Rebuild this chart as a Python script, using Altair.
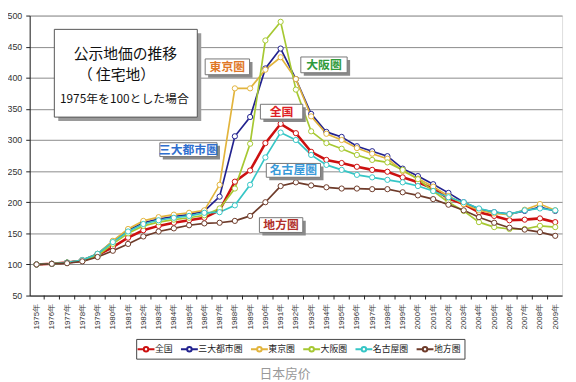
import altair as alt
import pandas as pd

years = list(range(1975, 2010))
series_names = ["全国", "三大都市圏", "東京圏", "大阪圏", "名古屋圏", "地方圏"]
series_colors = ["#CC1010", "#22228F", "#E2B43C", "#A6C832", "#36C6C6", "#6E3B2A"]

zenkoku = [100, 101, 103, 106, 115, 128, 143, 155, 162, 167, 171, 175, 187, 233, 251, 295, 326, 311, 281,
           268, 263, 257, 252, 249, 240, 232, 222, 206, 197, 184, 178, 171, 172, 174, 168]
sandai = [100, 101, 103, 107, 117, 137, 155, 167, 173, 177, 180, 186, 209, 306, 337, 415, 447, 398, 342,
          313, 305, 290, 282, 274, 254, 242, 229, 215, 200, 189, 184, 181, 186, 192, 186]
tokyo = [100, 101, 103, 107, 117, 138, 157, 170, 176, 180, 183, 187, 228, 383, 383, 413, 433, 398, 338,
         310, 300, 287, 278, 270, 250, 238, 225, 210, 197, 187, 182, 180, 188, 197, 187]
osaka = [100, 101, 103, 106, 114, 133, 150, 162, 168, 172, 175, 179, 190, 222, 294, 460, 490, 381, 314,
         295, 286, 276, 268, 264, 252, 237, 218, 200, 186, 168, 160, 157, 157, 162, 160]
nagoya = [100, 101, 103, 107, 117, 136, 153, 165, 171, 175, 178, 183, 184, 195, 228, 272, 312, 300, 276,
          260, 252, 244, 240, 236, 232, 226, 218, 208, 200, 190, 184, 181, 187, 190, 187]
chiho = [100, 101, 102, 105, 112, 122, 133, 145, 153, 158, 163, 166, 167, 170, 178, 200, 226, 232, 227,
         224, 222, 222, 221, 221, 216, 211, 205, 196, 187, 176, 167, 159, 156, 152, 146]

all_series = [zenkoku, sandai, tokyo, osaka, nagoya, chiho]

rows = []
for name, vals in zip(series_names, all_series):
    for yr, v in zip(years, vals):
        rows.append({"year": yr, "series": name, "value": v})
df = pd.DataFrame(rows)

tick_edges = pd.DataFrame({"year": [y + 0.5 for y in years[:-1]]})

# annotation boxes (pixel positions in plot area)
ann_labels = ["東京圏", "大阪圏", "全国", "三大都市圏", "名古屋圏", "地方圏"]
ann_colors = ["#E07828", "#2E9A3A", "#DD1F26", "#2F6FCF", "#3A9AD9", "#B0302A"]
ann_x1 = [178, 275, 234, 132, 240, 233]
ann_x2 = [223, 322, 277, 190, 295, 277]
ann_y1 = [44, 42, 90, 129, 150, 205]
ann_y2 = [60, 58, 105, 143, 164, 220]
ann = pd.DataFrame({"label": ann_labels, "color": ann_colors, "x1": ann_x1, "x2": ann_x2,
                    "y1": ann_y1, "y2": ann_y2})
ann["cx"] = (ann["x1"] + ann["x2"]) / 2
ann["cy"] = (ann["y1"] + ann["y2"]) / 2

title_lines = ["公示地価の推移", "（  住宅地）", "1975年を100とした場合"]
title_df = pd.DataFrame({"text": title_lines, "tx": [97, 88, 96], "ty": [39, 60, 85], "fs": [15, 15, 12]})
box_df = pd.DataFrame({"x1": [25], "x2": [170], "y1": [14], "y2": [103]})
caption_df = pd.DataFrame({"text": ["日本房价"], "tx": [259], "ty": [364]})

x_scale = alt.Scale(domain=[1974.55, 2009.45], nice=False, zero=False)
y_scale = alt.Scale(domain=[50, 500], nice=False, zero=False)

x_axis = alt.Axis(values=years, labelExpr="datum.value + '年'", labelAngle=270,
                  labelAlign="right", labelBaseline="middle", labelFontSize=8,
                  labelColor="#333", labelPadding=8, ticks=False, grid=False,
                  domainColor="#222", labelFont="Liberation Sans", labelOverlap=False,
                  labelBound=False, labelFlush=False, title=None)
y_axis = alt.Axis(values=list(range(50, 501, 50)), grid=True, gridColor="#8a8a8a",
                  gridWidth=1, tickSize=4, tickColor="#222", domainColor="#222",
                  labelFontSize=9, labelColor="#333", labelPadding=4,
                  labelFont="Liberation Sans", labelOverlap=False, labelFlush=False, title=None)

legend_symbol = "M-1.5,0H-0.4M0.4,0H1.5M-0.4,0A0.4,0.4 0 1 1 0.4,0A0.4,0.4 0 1 1 -0.4,0Z"

base = alt.Chart(df)

lines = base.mark_line(interpolate="linear").encode(
    x=alt.X("year:Q", scale=x_scale, axis=x_axis, title=None),
    y=alt.Y("value:Q", scale=y_scale, axis=y_axis, title=None),
    color=alt.Color("series:N", scale=alt.Scale(domain=series_names, range=series_colors),
                    legend=alt.Legend(orient="none", legendX=108, legendY=328, direction="horizontal",
                                      title=None, labelFontSize=9, labelFont="Noto Sans CJK JP",
                                      labelColor="#222", symbolType=legend_symbol, symbolSize=130,
                                      symbolStrokeWidth=2, symbolFillColor="white",
                                      strokeColor="#444", fillColor="white", padding=3,
                                      columnPadding=3, labelOffset=2, columns=6)),
    strokeWidth=alt.condition(alt.datum.series == "全国", alt.value(2.6), alt.value(1.7)),
    detail="series:N",
)

points = base.mark_point(shape="circle", fill="white", fillOpacity=1, opacity=1, size=28,
                         strokeWidth=1).encode(
    x=alt.X("year:Q", scale=x_scale, axis=x_axis, title=None),
    y=alt.Y("value:Q", scale=y_scale, axis=y_axis, title=None),
    stroke=alt.Stroke("series:N", scale=alt.Scale(domain=series_names, range=series_colors),
                      legend=None),
)

ticks = alt.Chart(tick_edges).mark_rule(color="#222", strokeWidth=1).encode(
    x=alt.X("year:Q", scale=x_scale, axis=x_axis, title=None),
    y=alt.value(284),
    y2=alt.value(288),
)

box_shadow = alt.Chart(box_df).mark_rect(color="#9a9a9a").encode(
    x=alt.X("x1:Q", scale=None), x2="x2:Q",
    y=alt.Y("y1:Q", scale=None), y2="y2:Q",
).transform_calculate(x1="datum.x1 + 4", x2="datum.x2 + 4", y1="datum.y1 + 4", y2="datum.y2 + 4")

box = alt.Chart(box_df).mark_rect(fill="white", stroke="#555", strokeWidth=1).encode(
    x=alt.X("x1:Q", scale=None), x2="x2:Q",
    y=alt.Y("y1:Q", scale=None), y2="y2:Q",
)

title_text = alt.Chart(title_df).mark_text(font="Noto Sans CJK JP", color="#111", baseline="middle",
                                           align="center").encode(
    x=alt.X("tx:Q", scale=None), y=alt.Y("ty:Q", scale=None),
    text="text:N", size=alt.Size("fs:Q", scale=None),
)

ann_shadow = alt.Chart(ann).mark_rect(color="#8a8a8a").encode(
    x=alt.X("sx1:Q", scale=None), x2="sx2:Q",
    y=alt.Y("sy1:Q", scale=None), y2="sy2:Q",
).transform_calculate(sx1="datum.x1 + 3", sx2="datum.x2 + 3", sy1="datum.y1 + 3", sy2="datum.y2 + 3")

ann_box = alt.Chart(ann).mark_rect(fill="white", stroke="#777", strokeWidth=1).encode(
    x=alt.X("x1:Q", scale=None), x2="x2:Q",
    y=alt.Y("y1:Q", scale=None), y2="y2:Q",
)

ann_text = alt.Chart(ann).mark_text(font="Noto Sans CJK JP", fontSize=12, fontWeight="bold",
                                    baseline="middle", align="center").encode(
    x=alt.X("cx:Q", scale=None), y=alt.Y("cy:Q", scale=None),
    text="label:N", color=alt.Color("color:N", scale=None),
)

caption = alt.Chart(caption_df).mark_text(font="Noto Sans CJK SC", fontSize=13, color="#999",
                                          baseline="middle", align="center").encode(
    x=alt.X("tx:Q", scale=None), y=alt.Y("ty:Q", scale=None), text="text:N",
)

chart = alt.layer(
    lines, points, ticks, box_shadow, box, title_text, ann_shadow, ann_box, ann_text, caption
).properties(
    width=540, height=284,
    autosize=alt.AutoSizeParams(type="none"),
    padding={"left": 22, "top": 5, "right": 6, "bottom": 85},
).configure_view(stroke=None).configure(background="white", font="Liberation Sans")

chart.save("out.html", embed_options={"renderer": "svg", "actions": False})
